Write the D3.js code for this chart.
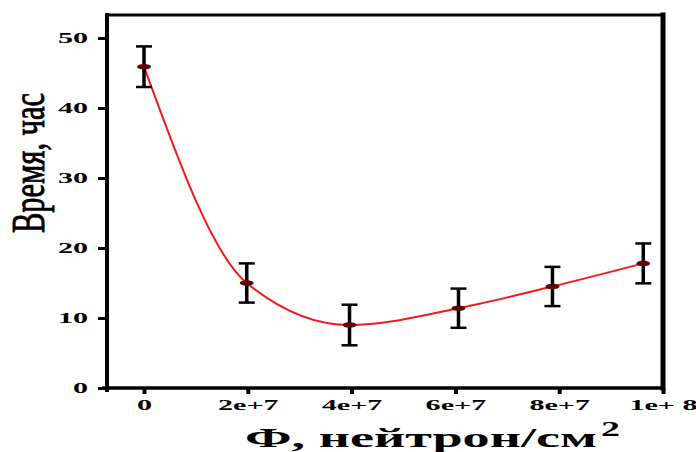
<!DOCTYPE html>
<html>
<head>
<meta charset="utf-8">
<script src="https://cdn.jsdelivr.net/npm/d3@7"></script>
<style>
  body { margin: 0; background: #fff; }
  svg { display: block; }
</style>
</head>
<body>
<svg id="chart" width="696" height="452"></svg>
<script>
// measured points: fluence (neutron/cm2) vs time (hours), with error half-widths
var fluence = [0, 1.98e7, 3.96e7, 6.06e7, 7.87e7, 9.62e7];
var hours = [45.9, 15.0, 9.0, 11.4, 14.5, 17.8];
var hourErrors = [2.9, 2.8, 2.9, 2.8, 2.8, 2.85];

var xTicks = [0, 2e7, 4e7, 6e7, 8e7, 1e8];
var xTickLabels = ['0', '2e+7', '4e+7', '6e+7', '8e+7', '1e+ 8'];
var yTicks = [0, 10, 20, 30, 40, 50];

var xTitle = 'Ф, нейтрон/см';
var xTitleSup = '2';
var yTitle = 'Время, час';

(function () {
  var svg = d3.select('#chart'),
      frame = { left: 107, right: 663, top: 15, bottom: 388 },
      serif = '"Liberation Serif", "Times New Roman", serif';

  var x = d3.scaleLinear().domain([0, 1e8]).range([144, frame.right]),
      y = d3.scaleLinear().domain([0, 50]).range([frame.bottom, 38]);

  var points = fluence.map(function (f, i) {
    return { f: f, h: hours[i], e: hourErrors[i] };
  });

  // the source picture is stretched sideways, so labels get widened too
  function _stretch(selection, factor) {
    selection.each(function () {
      d3.select(this)
        .attr('textLength', this.getComputedTextLength() * factor)
        .attr('lengthAdjust', 'spacingAndGlyphs');
    });
  }

  // axes
  var yAxis = svg.append('g')
                 .attr('transform', 'translate(' + frame.left + ',0)')
                 .call(d3.axisLeft(y).tickValues(yTicks).tickSize(9).tickPadding(10));
  yAxis.select('.domain').remove();
  yAxis.attr('font-family', serif).attr('font-size', 14).attr('font-weight', 'bold');
  yAxis.selectAll('.tick line').attr('stroke', '#000').attr('stroke-width', 3);
  yAxis.selectAll('.tick text').attr('fill', '#000').call(_stretch, 2.15);

  var xAxis = svg.append('g')
                 .attr('transform', 'translate(0,' + frame.bottom + ')')
                 .call(d3.axisBottom(x).tickValues(xTicks).tickSize(6).tickPadding(6)
                         .tickFormat(function (d, i) { return xTickLabels[i]; }));
  xAxis.select('.domain').remove();
  xAxis.attr('font-family', serif).attr('font-size', 14).attr('font-weight', 'bold');
  xAxis.selectAll('.tick line').attr('stroke', '#000').attr('stroke-width', 4);
  xAxis.selectAll('.tick text').attr('fill', '#000').call(_stretch, 2.15);

  // frame
  var box = svg.append('g').attr('stroke', '#000').attr('stroke-linecap', 'square');
  box.append('line').attr('x1', frame.left).attr('x2', frame.right)
     .attr('y1', frame.top).attr('y2', frame.top).attr('stroke-width', 3);
  box.append('line').attr('x1', frame.right).attr('x2', frame.right)
     .attr('y1', frame.top).attr('y2', frame.bottom).attr('stroke-width', 5);
  box.append('line').attr('x1', 104).attr('x2', frame.right)
     .attr('y1', frame.bottom).attr('y2', frame.bottom).attr('stroke-width', 3.5);
  box.append('line').attr('x1', frame.left).attr('x2', frame.left)
     .attr('y1', frame.top).attr('y2', frame.bottom + 2).attr('stroke-width', 4);

  // fitted curve
  var line = d3.line()
               .x(function (d) { return x(d.f); })
               .y(function (d) { return y(d.h); })
               .curve(d3.curveMonotoneX);

  svg.append('path')
     .datum(points)
     .attr('d', line)
     .attr('fill', 'none')
     .attr('stroke', '#f01a1a')
     .attr('stroke-width', 2);

  // error bars
  var bars = svg.selectAll('.err')
                .data(points)
                .enter()
                .append('g')
                .attr('class', 'err')
                .attr('stroke', '#000');

  bars.append('line')
      .attr('x1', function (d) { return x(d.f); })
      .attr('x2', function (d) { return x(d.f); })
      .attr('y1', function (d) { return y(d.h + d.e); })
      .attr('y2', function (d) { return y(d.h - d.e); })
      .attr('stroke-width', 3.5);

  [1, -1].forEach(function (sign) {
    bars.append('line')
        .attr('x1', function (d) { return x(d.f) - 8; })
        .attr('x2', function (d) { return x(d.f) + 8; })
        .attr('y1', function (d) { return y(d.h + sign * d.e); })
        .attr('y2', function (d) { return y(d.h + sign * d.e); })
        .attr('stroke-width', 2.5);
  });

  // markers
  svg.selectAll('.marker')
     .data(points)
     .enter()
     .append('ellipse')
     .attr('class', 'marker')
     .attr('cx', function (d) { return x(d.f); })
     .attr('cy', function (d) { return y(d.h); })
     .attr('rx', 7)
     .attr('ry', 2.8)
     .attr('fill', '#5c0606');

  // titles
  svg.append('text')
     .attr('transform', 'translate(44,163) rotate(-90)')
     .attr('text-anchor', 'middle')
     .attr('font-family', serif)
     .attr('font-size', 47)
     .attr('textLength', 140)
     .attr('lengthAdjust', 'spacingAndGlyphs')
     .attr('fill', '#000')
     .attr('stroke', '#000')
     .attr('stroke-width', 0.9)
     .text(yTitle);

  svg.append('text')
     .attr('x', 245)
     .attr('y', 447)
     .attr('font-family', serif)
     .attr('font-weight', 'bold')
     .attr('font-size', 28)
     .attr('textLength', 352)
     .attr('lengthAdjust', 'spacingAndGlyphs')
     .attr('fill', '#000')
     .text(xTitle);

  svg.append('text')
     .attr('x', 601)
     .attr('y', 436)
     .attr('font-family', serif)
     .attr('font-weight', 'bold')
     .attr('font-size', 20)
     .attr('textLength', 19)
     .attr('lengthAdjust', 'spacingAndGlyphs')
     .attr('fill', '#000')
     .text(xTitleSup);
})();
</script>
</body>
</html>
